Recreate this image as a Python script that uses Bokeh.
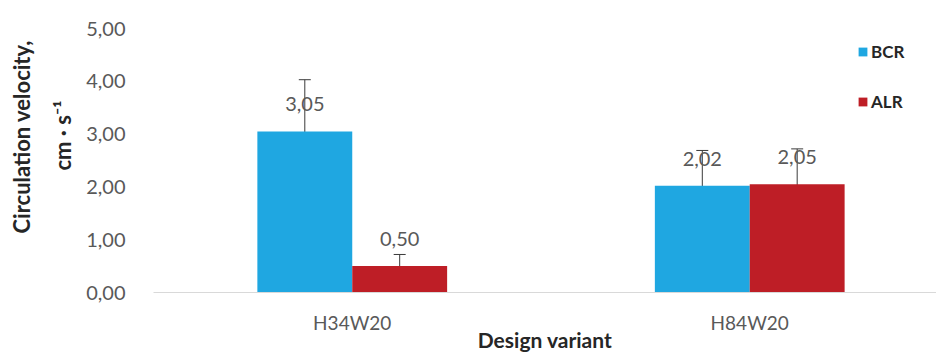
from bokeh.plotting import figure
from bokeh.models import (ColumnDataSource, FixedTicker, Whisker, TeeHead, Legend,
                          LegendItem, Title, Range1d)
from bokeh.core.properties import value
from bokeh.embed import file_html
from bokeh.resources import INLINE

# ---- data ----
categories = ["H34W20", "H84W20"]
bcr_values = [3.05, 2.02]
alr_values = [0.50, 2.05]
bcr_upper = [4.03, 2.69]
bcr_lower = [2.11, 1.43]
alr_upper = [0.72, 2.72]
alr_lower = [0.29, 1.40]
bcr_labels = ["3,05", "2,02"]
alr_labels = ["0,50", "2,05"]
y_ticks = [0, 1, 2, 3, 4, 5]
y_tick_labels = ["0,00", "1,00", "2,00", "3,00", "4,00", "5,00"]

FONT = "Lato"
BLUE = "#1fa7e1"
RED = "#be1e26"
GREY = "#595959"
DARK = "#262626"

bar_w = 0.2387
centers = [i + 0.5 for i in range(len(categories))]

p = figure(width=936, height=354, output_backend="svg", toolbar_location=None,
           x_range=Range1d(0, 784 / 398), y_range=Range1d(0, 5),
           min_border_left=152, min_border_right=0, min_border_top=28,
           min_border_bottom=61)
p.outline_line_color = None
p.xgrid.visible = False
p.ygrid.visible = False
p.background_fill_color = "white"
p.border_fill_color = "white"

src_b = ColumnDataSource(dict(x=[c - bar_w / 2 for c in centers], top=bcr_values,
                              up=bcr_upper, lo=bcr_lower, lab=bcr_labels))
src_a = ColumnDataSource(dict(x=[c + bar_w / 2 for c in centers], top=alr_values,
                              up=alr_upper, lo=alr_lower, lab=alr_labels))

rb = p.vbar(x="x", top="top", width=bar_w, source=src_b, fill_color=BLUE, line_color=None)
ra = p.vbar(x="x", top="top", width=bar_w, source=src_a, fill_color=RED, line_color=None)

for src in (src_b, src_a):
    w = Whisker(base="x", upper="up", lower="lo", source=src,
                line_color="#3a3a3a", line_width=1,
                upper_head=TeeHead(size=12, line_color="#3a3a3a", line_width=1),
                lower_head=TeeHead(size=12, line_color="#3a3a3a", line_width=1))
    p.add_layout(w)
    p.text(x="x", y="top", text="lab", source=src, text_align="center",
           text_baseline="middle", y_offset=-27, text_color=GREY,
           text_font=value(FONT), text_font_size="20px")

# x axis
p.xaxis.ticker = FixedTicker(ticks=centers)
p.xaxis.major_label_overrides = {c: n for c, n in zip(centers, categories)}
p.xaxis.major_tick_line_color = None
p.xaxis.minor_tick_line_color = None
p.xaxis.axis_line_color = "#d9d9d9"
p.xaxis.axis_line_width = 1
p.xaxis.major_label_text_font = FONT
p.xaxis.major_label_text_font_size = "19px"
p.xaxis.major_label_text_color = GREY
p.xaxis.major_label_standoff = 12
p.xaxis.axis_label = "Design variant"
p.xaxis.axis_label_text_font = FONT
p.xaxis.axis_label_text_font_style = "bold"
p.xaxis.axis_label_text_font_size = "21px"
p.xaxis.axis_label_text_color = DARK
p.xaxis.axis_label_standoff = -10

# y axis
p.yaxis.ticker = FixedTicker(ticks=y_ticks)
p.yaxis.major_label_overrides = {t: s for t, s in zip(y_ticks, y_tick_labels)}
p.yaxis.major_tick_line_color = None
p.yaxis.minor_tick_line_color = None
p.yaxis.axis_line_color = None
p.yaxis.major_label_text_font = FONT
p.yaxis.major_label_text_font_size = "20px"
p.yaxis.major_label_text_color = GREY
p.yaxis.major_label_standoff = 22

# y axis title (two lines), as left-side titles
t2 = Title(text="cm · s⁻¹", align="left", offset=122, standoff=15,
           text_font=FONT, text_font_style="bold", text_font_size="22px",
           text_color=DARK)
t1 = Title(text="Circulation velocity,", align="left", offset=59, standoff=10,
           text_font=FONT, text_font_style="bold", text_font_size="22px",
           text_color=DARK)
p.add_layout(t2, "left")
p.add_layout(t1, "left")

legend = Legend(items=[LegendItem(label="BCR", renderers=[rb]),
                       LegendItem(label="ALR", renderers=[ra])],
                location=(704, 180), orientation="vertical",
                glyph_width=11, glyph_height=11, label_standoff=3,
                spacing=29, padding=0, margin=0,
                border_line_color=None, background_fill_alpha=0,
                label_text_font=FONT, label_text_font_style="bold",
                label_text_font_size="17px", label_text_color=DARK)
p.add_layout(legend)

open("out.html", "w").write(file_html(p, INLINE))
